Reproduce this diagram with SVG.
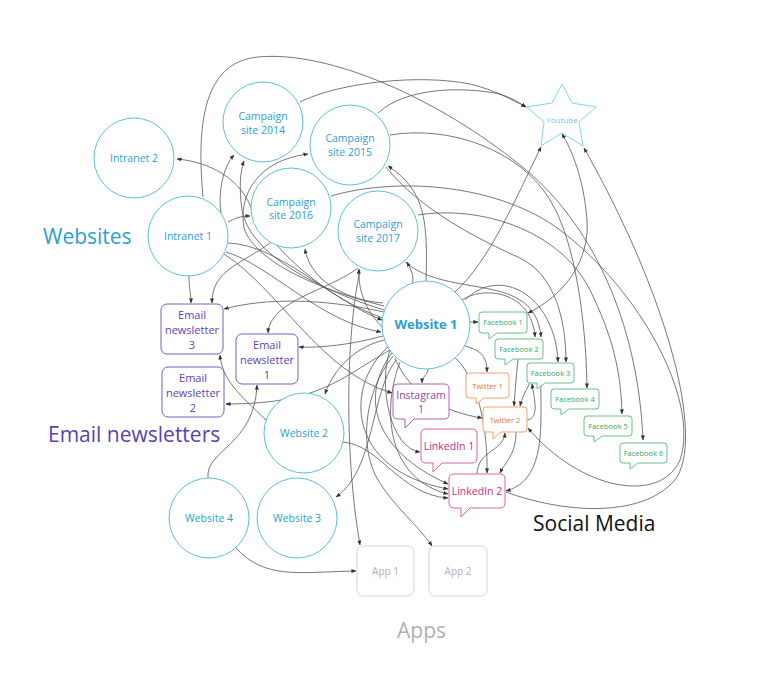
<svg xmlns="http://www.w3.org/2000/svg" width="768" height="692" viewBox="0 0 768 692">
<defs>
<marker id="a" viewBox="0 0 6 6" refX="5.5" refY="3" markerWidth="5" markerHeight="5" markerUnits="userSpaceOnUse" orient="auto-start-reverse"><path d="M0,0.6 L6,3 L0,5.4 z" fill="#333"/></marker>
<style>
text{font-family:"Open Sans","Noto Sans","Liberation Sans",sans-serif;text-anchor:middle}
.c{fill:#fff;stroke:#5bc0e0;stroke-width:1}
.ct{fill:#2b9fd3;font-size:10.5px}
.en{fill:#fff;stroke:#7a5cc8;stroke-width:1}
.ent{fill:#5b3fb5;font-size:11px}
.fb{fill:#fff;stroke:#6cc08b;stroke-width:1}
.fbt{fill:#3aa45e;font-size:7.5px}
.tw{fill:#fff;stroke:#f5a06e;stroke-width:1}
.twt{fill:#e8763a;font-size:7.5px}
.ig{fill:#fff;stroke:#b060b0;stroke-width:1}
.igt{fill:#9b3fa0;font-size:10.5px}
.li{fill:#fff;stroke:#e0609f;stroke-width:1}
.lit{fill:#cc2a7e;font-size:10.5px}
.ap{fill:#fff;stroke:#d5d5d5;stroke-width:1}
.apt{fill:#b0b0b0;font-size:10px}
.g{font-size:21px;text-anchor:start}
.e{fill:none;stroke:#555;stroke-width:0.8;marker-end:url(#a)}
</style>
</defs>
<rect width="768" height="692" fill="#fff"/>
<g id="connectors">
<path class="e" d="M203,197 C196,120 205,62 258,57 C330,50 440,100 520,165 C590,220 638,320 643,440"/>
<path class="e" d="M300,102 C340,82 420,74 470,84 C495,90 512,100 526,107"/>
<path class="e" d="M378,113 C405,88 460,86 500,94 C512,98 520,103 526,107"/>
<path class="e" d="M390,135 C450,125 520,150 550,200 C575,240 586,320 587,388"/>
<path class="e" d="M418,215 C480,205 560,230 590,290 C612,335 621,370 622,414"/>
<path class="e" d="M331,196 C400,176 500,185 560,230 C640,290 700,400 680,460 C660,505 580,490 528,428"/>
<path class="e" d="M506,492 C560,512 640,520 675,480 C705,440 670,300 584,148"/>
<path class="e" d="M455,292 C490,260 515,200 541,147"/>
<path class="e" style="marker-start:url(#a)" d="M528,313 C565,295 590,260 587,220 C584,180 572,150 562,134"/>
<path class="e" d="M462,300 C485,285 532,292 535,337"/>
<path class="e" d="M405,262 C450,300 535,270 541,337"/>
<path class="e" d="M465,300 C500,265 555,295 558,362"/>
<path class="e" d="M386,167 C420,210 480,240 520,258 C555,275 566,320 566,362"/>
<path class="e" d="M470,322 L478,322"/>
<path class="e" d="M462,345 C480,350 487,355 487,372"/>
<path class="e" d="M518,359 C516,380 515,392 514,406"/>
<path class="e" d="M530,383 C525,392 522,398 520,406"/>
<path class="e" d="M527,420 C540,418 534,398 532,384"/>
<path class="e" d="M395,358 C410,395 445,412 482,418"/>
<path class="e" d="M477,474 C478,450 503,452 505,433"/>
<path class="e" d="M516,432 C516,455 505,462 500,473"/>
<path class="e" d="M452,355 C478,375 488,430 487,473"/>
<path class="e" d="M541,383 C540,420 548,480 506,491"/>
<path class="e" d="M392,353 C360,395 372,450 448,484"/>
<path class="e" d="M400,362 C380,415 390,480 448,494"/>
<path class="e" d="M343,442 C380,445 400,495 448,498"/>
<path class="e" d="M388,347 C345,385 345,470 448,489"/>
<path class="e" d="M428,369 C428,375 422,376 422,383"/>
<path class="e" d="M224,254 C280,290 320,372 392,393"/>
<path class="e" d="M390,350 C378,385 390,448 420,452"/>
<path class="e" d="M360,270 C345,340 345,460 360,545"/>
<path class="e" d="M393,356 C362,395 360,450 378,480 C395,508 418,525 432,546"/>
<path class="e" d="M236,548 C265,580 300,572 356,571"/>
<path class="e" d="M396,360 C370,395 375,470 336,497"/>
<path class="e" d="M383,336 C350,345 320,348 299,347"/>
<path class="e" d="M384,312 C320,298 265,298 224,309"/>
<path class="e" d="M358,268 C330,290 270,300 268,333"/>
<path class="e" d="M270,243 C240,265 212,270 212,303"/>
<path class="e" d="M189,276 C189,290 191,292 191,303"/>
<path class="e" d="M390,350 C340,378 320,404 226,404"/>
<path class="e" d="M266,420 C240,395 222,380 220,355"/>
<path class="e" d="M208,478 C205,450 255,445 257,385"/>
<path class="e" d="M221,213 C218,195 222,168 234,155"/>
<path class="e" d="M384,310 C320,290 250,255 242,210 C239,188 240,172 244,161"/>
<path class="e" d="M384,306 C320,290 255,262 244,228 C238,195 258,160 308,154"/>
<path class="e" d="M228,222 C236,218 240,216 250,216"/>
<path class="e" d="M383,303 C345,300 310,280 305,249"/>
<path class="e" d="M426,281 C428,220 425,190 388,166"/>
<path class="e" d="M412,287 C415,275 410,268 407,262"/>
<path class="e" d="M383,318 C330,300 270,250 250,205 C238,178 210,162 177,159"/>
<path class="e" d="M228,243 C280,245 330,300 382,320"/>
<path class="e" d="M226,252 C270,265 320,322 381,332"/>
<path class="e" d="M385,340 C360,345 335,365 325,394"/>
<path class="e" d="M383,328 C365,310 358,290 359,269"/>
</g>
<g id="intranet2"><circle class="c" cx="134" cy="158" r="40"/><text class="ct" x="134" y="162">Intranet 2</text></g>
<g id="campaign2014"><circle class="c" cx="263" cy="122" r="40"/><text class="ct" x="263" y="120">Campaign</text><text class="ct" x="263" y="134">site 2014</text></g>
<g id="campaign2015"><circle class="c" cx="350" cy="145" r="40"/><text class="ct" x="350" y="142">Campaign</text><text class="ct" x="350" y="156">site 2015</text></g>
<g id="campaign2016"><circle class="c" cx="291" cy="208" r="40"/><text class="ct" x="291" y="206">Campaign</text><text class="ct" x="291" y="219">site 2016</text></g>
<g id="campaign2017"><circle class="c" cx="378" cy="231" r="40"/><text class="ct" x="378" y="228">Campaign</text><text class="ct" x="378" y="242">site 2017</text></g>
<g id="intranet1"><circle class="c" cx="188" cy="236" r="40"/><text class="ct" x="188" y="240">Intranet 1</text></g>
<g id="website1"><circle class="c" cx="426" cy="325" r="44"/><text x="426" y="329" style="fill:#2b9fd3;font-size:13px;font-weight:bold">Website 1</text></g>
<g id="website2"><circle class="c" cx="304" cy="433" r="40"/><text class="ct" x="304" y="437">Website 2</text></g>
<g id="website4"><circle class="c" cx="209" cy="518" r="40"/><text class="ct" x="209" y="522">Website 4</text></g>
<g id="website3"><circle class="c" cx="297" cy="518" r="40"/><text class="ct" x="297" y="522">Website 3</text></g>
<g id="email3"><rect class="en" x="161" y="304" width="62" height="50" rx="6"/><text class="ent" x="192" y="319">Email</text><text class="ent" x="192" y="334">newsletter</text><text class="ent" x="192" y="349">3</text></g>
<g id="email1"><rect class="en" x="236" y="334" width="62" height="50" rx="6"/><text class="ent" x="267" y="349">Email</text><text class="ent" x="267" y="364">newsletter</text><text class="ent" x="267" y="379">1</text></g>
<g id="email2"><rect class="en" x="162" y="367" width="62" height="50" rx="6"/><text class="ent" x="193" y="382">Email</text><text class="ent" x="193" y="397">newsletter</text><text class="ent" x="193" y="412">2</text></g>
<g id="youtube"><polygon points="562,84 572,103 596,107 579,122 583,146 562,133 541,146 544,122 527,107 552,103" fill="#fff" stroke="#7dd6f5" stroke-width="1"/><text x="562" y="123" style="fill:#6cc9ec;font-size:8px">Youtube</text></g>
<g id="facebook1"><path class="fb" d="M482,312 H524 Q527,312 527,315 V330 Q527,333 524,333 H497 L489,339 V333 H482 Q479,333 479,330 V315 Q479,312 482,312 Z"/><text class="fbt" x="503" y="325">Facebook 1</text></g>
<g id="facebook2"><path class="fb" d="M498,339 H540 Q543,339 543,342 V356 Q543,359 540,359 H513 L505,365 V359 H498 Q495,359 495,356 V342 Q495,339 498,339 Z"/><text class="fbt" x="519" y="352">Facebook 2</text></g>
<g id="facebook3"><path class="fb" d="M530,363 H571 Q574,363 574,366 V380 Q574,383 571,383 H545 L537,389 V383 H530 Q527,383 527,380 V366 Q527,363 530,363 Z"/><text class="fbt" x="550.5" y="376">Facebook 3</text></g>
<g id="facebook4"><path class="fb" d="M554,389 H596 Q599,389 599,392 V406 Q599,409 596,409 H569 L561,415 V409 H554 Q551,409 551,406 V392 Q551,389 554,389 Z"/><text class="fbt" x="575" y="402">Facebook 4</text></g>
<g id="facebook5"><path class="fb" d="M587,416 H629 Q632,416 632,419 V433 Q632,436 629,436 H602 L594,442 V436 H587 Q584,436 584,433 V419 Q584,416 587,416 Z"/><text class="fbt" x="608" y="429">Facebook 5</text></g>
<g id="facebook6"><path class="fb" d="M623,443 H664 Q667,443 667,446 V460 Q667,463 664,463 H638 L630,469 V463 H623 Q620,463 620,460 V446 Q620,443 623,443 Z"/><text class="fbt" x="643.5" y="456">Facebook 6</text></g>
<g id="twitter1"><path class="tw" d="M469,373 H506 Q509,373 509,376 V395 Q509,398 506,398 H484 L476,404 V398 H469 Q466,398 466,395 V376 Q466,373 469,373 Z"/><text class="twt" x="487.5" y="388.5">Twitter 1</text></g>
<g id="twitter2"><path class="tw" d="M486,407 H524 Q527,407 527,410 V429 Q527,432 524,432 H501 L493,439 V432 H486 Q483,432 483,429 V410 Q483,407 486,407 Z"/><text class="twt" x="505" y="422.5">Twitter 2</text></g>
<g id="instagram1"><path class="ig" d="M398,384 H444 Q449,384 449,389 V414 Q449,419 444,419 H414 L405,428 V419 H398 Q393,419 393,414 V389 Q393,384 398,384 Z"/><text class="igt" x="421" y="399">Instagram</text><text class="igt" x="421" y="413">1</text></g>
<g id="linkedin1"><path class="li" d="M426,429 H472 Q477,429 477,434 V458 Q477,463 472,463 H442 L433,472 V463 H426 Q421,463 421,458 V434 Q421,429 426,429 Z"/><text class="lit" x="449" y="450">LinkedIn 1</text></g>
<g id="linkedin2"><path class="li" d="M454,474 H500 Q505,474 505,479 V503 Q505,508 500,508 H470 L461,517 V508 H454 Q449,508 449,503 V479 Q449,474 454,474 Z"/><text class="lit" x="477" y="495">LinkedIn 2</text></g>
<g id="app1"><rect class="ap" x="357" y="546" width="57" height="50" rx="6"/><text class="apt" x="385.5" y="575">App 1</text></g>
<g id="app2"><rect class="ap" x="429" y="546" width="58" height="50" rx="6"/><text class="apt" x="458" y="575">App 2</text></g>
<g id="labels">
<text class="g" x="43" y="244" fill="#2b9fd3">Websites</text>
<text class="g" x="48" y="442" fill="#5b3fb5">Email newsletters</text>
<text class="g" x="533" y="531" fill="#111">Social Media</text>
<text class="g" x="397" y="638" fill="#b0b0b0">Apps</text>
</g>
</svg>
